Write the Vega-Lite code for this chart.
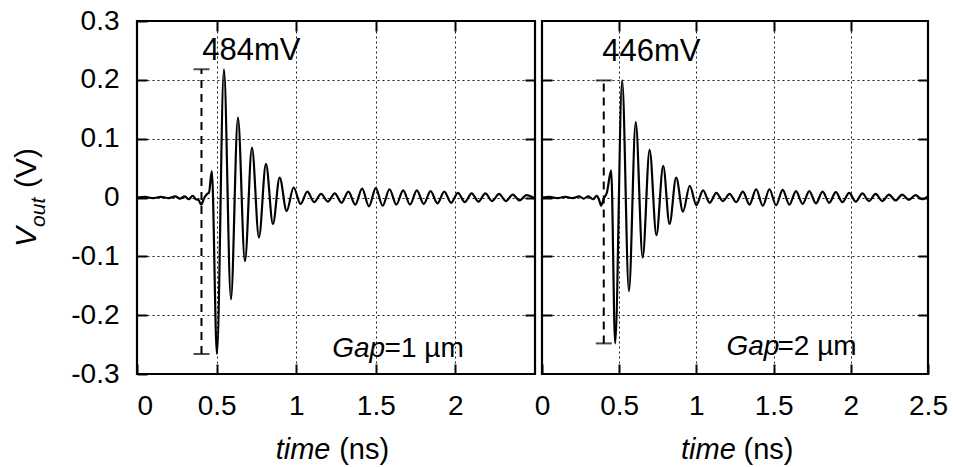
{
  "$schema": "https://vega.github.io/schema/vega-lite/v6.json",
  "background": "white",
  "padding": {"left": 10, "top": 5, "right": 5, "bottom": 5},
  "spacing": -8,
  "config": {
    "font": "Liberation Sans",
    "view": {"stroke": "black", "strokeWidth": 2.2},
    "axis": {"domain": false, "labelFont": "Liberation Sans", "labelFontSize": 28, "labelColor": "black", "tickColor": "black", "tickWidth": 2, "tickSize": -10, "gridColor": "black", "gridDash": [2, 3], "gridWidth": 1, "gridOpacity": 0.9}
  },
  "datasets": {
    "L": [
      {"t": 0, "v": 0}, {"t": 0.05, "v": 0.001}, {"t": 0.1, "v": -0.001}, {"t": 0.15, "v": 0.001}, {"t": 0.2, "v": -0.001},
      {"t": 0.24, "v": 0.002}, {"t": 0.27, "v": -0.002}, {"t": 0.3, "v": 0.002}, {"t": 0.325, "v": -0.003}, {"t": 0.35, "v": 0.003},
      {"t": 0.37, "v": -0.003}, {"t": 0.385, "v": -0.004}, {"t": 0.404, "v": -0.012}, {"t": 0.42, "v": -0.002}, {"t": 0.44, "v": 0.006},
      {"t": 0.452, "v": 0.008}, {"t": 0.47, "v": 0.045}, {"t": 0.502, "v": -0.266}, {"t": 0.546, "v": 0.218}, {"t": 0.59, "v": -0.173},
      {"t": 0.634, "v": 0.136}, {"t": 0.678, "v": -0.108}, {"t": 0.722, "v": 0.085}, {"t": 0.766, "v": -0.068}, {"t": 0.81, "v": 0.057},
      {"t": 0.854, "v": -0.045}, {"t": 0.896, "v": 0.034}, {"t": 0.94, "v": -0.023}, {"t": 0.984, "v": 0.017}, {"t": 1.027, "v": -0.011},
      {"t": 1.07, "v": 0.01}, {"t": 1.113, "v": -0.008}, {"t": 1.156, "v": 0.006}, {"t": 1.199, "v": -0.007}, {"t": 1.242, "v": 0.007},
      {"t": 1.285, "v": -0.009}, {"t": 1.328, "v": 0.01}, {"t": 1.371, "v": -0.012}, {"t": 1.414, "v": 0.015}, {"t": 1.457, "v": -0.015},
      {"t": 1.5, "v": 0.016}, {"t": 1.543, "v": -0.014}, {"t": 1.586, "v": 0.014}, {"t": 1.629, "v": -0.012}, {"t": 1.672, "v": 0.012},
      {"t": 1.715, "v": -0.012}, {"t": 1.758, "v": 0.012}, {"t": 1.801, "v": -0.011}, {"t": 1.844, "v": 0.011}, {"t": 1.887, "v": -0.01},
      {"t": 1.93, "v": 0.01}, {"t": 1.973, "v": -0.009}, {"t": 2.016, "v": 0.008}, {"t": 2.059, "v": -0.008}, {"t": 2.102, "v": 0.007},
      {"t": 2.145, "v": -0.007}, {"t": 2.188, "v": 0.007}, {"t": 2.231, "v": -0.006}, {"t": 2.274, "v": 0.006}, {"t": 2.317, "v": -0.006},
      {"t": 2.36, "v": 0.005}, {"t": 2.403, "v": -0.005}, {"t": 2.446, "v": 0.004}, {"t": 2.5, "v": -0.002}
    ],
    "R": [
      {"t": 0, "v": 0}, {"t": 0.05, "v": 0.001}, {"t": 0.1, "v": -0.001}, {"t": 0.15, "v": 0.001}, {"t": 0.2, "v": -0.001},
      {"t": 0.24, "v": 0.002}, {"t": 0.27, "v": -0.002}, {"t": 0.3, "v": 0.002}, {"t": 0.33, "v": -0.003}, {"t": 0.355, "v": 0.003},
      {"t": 0.37, "v": -0.004}, {"t": 0.383, "v": -0.014}, {"t": 0.4, "v": -0.002}, {"t": 0.42, "v": 0.008}, {"t": 0.448, "v": 0.046},
      {"t": 0.474, "v": -0.248}, {"t": 0.519, "v": 0.199}, {"t": 0.563, "v": -0.159}, {"t": 0.607, "v": 0.128}, {"t": 0.652, "v": -0.102},
      {"t": 0.697, "v": 0.081}, {"t": 0.741, "v": -0.064}, {"t": 0.785, "v": 0.054}, {"t": 0.826, "v": -0.045}, {"t": 0.869, "v": 0.034},
      {"t": 0.913, "v": -0.024}, {"t": 0.957, "v": 0.02}, {"t": 1.0, "v": -0.013}, {"t": 1.043, "v": 0.012}, {"t": 1.086, "v": -0.009},
      {"t": 1.129, "v": 0.008}, {"t": 1.172, "v": -0.006}, {"t": 1.215, "v": 0.006}, {"t": 1.258, "v": -0.008}, {"t": 1.301, "v": 0.01},
      {"t": 1.344, "v": -0.012}, {"t": 1.387, "v": 0.014}, {"t": 1.43, "v": -0.014}, {"t": 1.473, "v": 0.014}, {"t": 1.516, "v": -0.013},
      {"t": 1.559, "v": 0.013}, {"t": 1.602, "v": -0.012}, {"t": 1.645, "v": 0.011}, {"t": 1.688, "v": -0.011}, {"t": 1.731, "v": 0.011},
      {"t": 1.774, "v": -0.01}, {"t": 1.817, "v": 0.01}, {"t": 1.86, "v": -0.009}, {"t": 1.903, "v": 0.009}, {"t": 1.946, "v": -0.008},
      {"t": 1.989, "v": 0.008}, {"t": 2.032, "v": -0.007}, {"t": 2.075, "v": 0.007}, {"t": 2.118, "v": -0.006}, {"t": 2.161, "v": 0.006},
      {"t": 2.204, "v": -0.006}, {"t": 2.247, "v": 0.005}, {"t": 2.29, "v": -0.005}, {"t": 2.333, "v": 0.005}, {"t": 2.376, "v": -0.004},
      {"t": 2.419, "v": 0.004}, {"t": 2.462, "v": -0.003}, {"t": 2.5, "v": 0.002}
    ]
  },
  "hconcat": [
    {
      "width": 398,
      "height": 353,
      "layer": [
        {
          "data": {"name": "L"},
          "mark": {"type": "line", "color": "black", "strokeWidth": 2.2, "interpolate": "monotone"},
          "encoding": {
            "x": {"field": "t", "type": "quantitative", "scale": {"domain": [0, 2.5], "nice": false}, "axis": {"orient": "bottom", "values": [0, 0.5, 1, 1.5, 2], "grid": true, "labelPadding": 28, "labelFlush": true, "title": null, "labelExpr": "format(datum.value, '~g')"}},
            "y": {"field": "v", "type": "quantitative", "scale": {"domain": [-0.3, 0.3], "nice": false, "zero": false}, "axis": {"orient": "left", "values": [-0.3, -0.2, -0.1, 0, 0.1, 0.2, 0.3], "grid": true, "labelPadding": 28, "labelFlush": false, "title": null, "labelExpr": "replace(format(datum.value, '~g'), '\u2212', '-')"}}
          }
        },
        {
          "data": {"values": [{"t": 0.405, "lo": -0.266, "hi": 0.218}]},
          "mark": {"type": "rule", "strokeDash": [8, 6], "strokeWidth": 2, "color": "black"},
          "encoding": {
            "x": {"field": "t", "type": "quantitative", "axis": {"orient": "top", "values": [0.5, 1, 1.5, 2], "labels": false, "grid": false, "title": null}},
            "y": {"field": "lo", "type": "quantitative", "axis": {"orient": "right", "values": [-0.2, -0.1, 0, 0.1, 0.2], "labels": false, "grid": false, "title": null}},
            "y2": {"field": "hi"}
          }
        },
        {
          "data": {"values": [{"t": 0.405, "lo": -0.266, "hi": 0.218}]},
          "mark": {"type": "tick", "orient": "horizontal", "size": 16, "thickness": 2, "color": "black"},
          "encoding": {"x": {"field": "t", "type": "quantitative", "axis": null}, "y": {"field": "hi", "type": "quantitative", "axis": null}}
        },
        {
          "data": {"values": [{"t": 0.405, "lo": -0.266, "hi": 0.218}]},
          "mark": {"type": "tick", "orient": "horizontal", "size": 16, "thickness": 2, "color": "black"},
          "encoding": {"x": {"field": "t", "type": "quantitative", "axis": null}, "y": {"field": "lo", "type": "quantitative", "axis": null}}
        },
        {
          "data": {"values": [{"label": "484mV"}]},
          "mark": {"type": "text", "align": "left", "baseline": "alphabetic", "fontSize": 31, "color": "black"},
          "encoding": {"text": {"field": "label"}, "x": {"datum": 0.41, "type": "quantitative", "axis": null}, "y": {"datum": 0.234, "type": "quantitative", "axis": null}}
        },
        {
          "data": {"values": [{"label": "Gap"}]},
          "mark": {"type": "text", "align": "left", "baseline": "alphabetic", "fontSize": 28, "fontStyle": "italic", "color": "black"},
          "encoding": {"text": {"field": "label"}, "x": {"datum": 1.226, "type": "quantitative", "axis": null}, "y": {"datum": -0.271, "type": "quantitative", "axis": null}}
        },
        {
          "data": {"values": [{"label": "=1 µm"}]},
          "mark": {"type": "text", "align": "left", "baseline": "alphabetic", "fontSize": 28, "color": "black"},
          "encoding": {"text": {"field": "label"}, "x": {"datum": 1.555, "type": "quantitative", "axis": null}, "y": {"datum": -0.271, "type": "quantitative", "axis": null}}
        },
        {
          "data": {"values": [{"label": "time"}]},
          "mark": {"type": "text", "align": "right", "baseline": "middle", "fontSize": 29, "fontStyle": "italic", "color": "black"},
          "encoding": {"text": {"field": "label"}, "x": {"datum": 1.215, "type": "quantitative", "axis": null}, "y": {"datum": -0.43, "type": "quantitative", "axis": null}}
        },
        {
          "data": {"values": [{"label": "(ns)"}]},
          "mark": {"type": "text", "align": "left", "baseline": "middle", "fontSize": 29, "color": "black"},
          "encoding": {"text": {"field": "label"}, "x": {"datum": 1.27, "type": "quantitative", "axis": null}, "y": {"datum": -0.43, "type": "quantitative", "axis": null}}
        },
        {
          "data": {"values": [{"label": "V"}]},
          "mark": {"type": "text", "align": "left", "baseline": "alphabetic", "angle": 270, "fontSize": 30, "fontStyle": "italic", "color": "black"},
          "encoding": {"text": {"field": "label"}, "x": {"datum": -0.635, "type": "quantitative", "axis": null}, "y": {"datum": -0.084, "type": "quantitative", "axis": null}}
        },
        {
          "data": {"values": [{"label": "out"}]},
          "mark": {"type": "text", "align": "left", "baseline": "alphabetic", "angle": 270, "fontSize": 21, "fontStyle": "italic", "color": "black"},
          "encoding": {"text": {"field": "label"}, "x": {"datum": -0.58, "type": "quantitative", "axis": null}, "y": {"datum": -0.05, "type": "quantitative", "axis": null}}
        },
        {
          "data": {"values": [{"label": "(V)"}]},
          "mark": {"type": "text", "align": "left", "baseline": "alphabetic", "angle": 270, "fontSize": 30, "color": "black"},
          "encoding": {"text": {"field": "label"}, "x": {"datum": -0.635, "type": "quantitative", "axis": null}, "y": {"datum": 0.016, "type": "quantitative", "axis": null}}
        }
      ],
      "resolve": {"axis": {"x": "independent", "y": "independent"}}
    },
    {
      "width": 386,
      "height": 353,
      "layer": [
        {
          "data": {"name": "R"},
          "mark": {"type": "line", "color": "black", "strokeWidth": 2.2, "interpolate": "monotone"},
          "encoding": {
            "x": {"field": "t", "type": "quantitative", "scale": {"domain": [0, 2.5], "nice": false}, "axis": {"orient": "bottom", "values": [0, 0.5, 1, 1.5, 2, 2.5], "grid": true, "labelPadding": 28, "labelFlush": false, "title": null, "labelExpr": "format(datum.value, '~g')"}},
            "y": {"field": "v", "type": "quantitative", "scale": {"domain": [-0.3, 0.3], "nice": false, "zero": false}, "axis": {"orient": "left", "values": [-0.2, -0.1, 0, 0.1, 0.2], "grid": true, "labels": false, "title": null}}
          }
        },
        {
          "data": {"values": [{"t": 0.4, "lo": -0.248, "hi": 0.199}]},
          "mark": {"type": "rule", "strokeDash": [8, 6], "strokeWidth": 2, "color": "black"},
          "encoding": {
            "x": {"field": "t", "type": "quantitative", "axis": {"orient": "top", "values": [0.5, 1, 1.5, 2], "labels": false, "grid": false, "title": null}},
            "y": {"field": "lo", "type": "quantitative", "axis": {"orient": "right", "values": [-0.2, -0.1, 0, 0.1, 0.2], "labels": false, "grid": false, "title": null}},
            "y2": {"field": "hi"}
          }
        },
        {
          "data": {"values": [{"t": 0.4, "lo": -0.248, "hi": 0.199}]},
          "mark": {"type": "tick", "orient": "horizontal", "size": 16, "thickness": 2, "color": "black"},
          "encoding": {"x": {"field": "t", "type": "quantitative", "axis": null}, "y": {"field": "hi", "type": "quantitative", "axis": null}}
        },
        {
          "data": {"values": [{"t": 0.4, "lo": -0.248, "hi": 0.199}]},
          "mark": {"type": "tick", "orient": "horizontal", "size": 16, "thickness": 2, "color": "black"},
          "encoding": {"x": {"field": "t", "type": "quantitative", "axis": null}, "y": {"field": "lo", "type": "quantitative", "axis": null}}
        },
        {
          "data": {"values": [{"label": "446mV"}]},
          "mark": {"type": "text", "align": "left", "baseline": "alphabetic", "fontSize": 31, "color": "black"},
          "encoding": {"text": {"field": "label"}, "x": {"datum": 0.39, "type": "quantitative", "axis": null}, "y": {"datum": 0.232, "type": "quantitative", "axis": null}}
        },
        {
          "data": {"values": [{"label": "Gap"}]},
          "mark": {"type": "text", "align": "left", "baseline": "alphabetic", "fontSize": 28, "fontStyle": "italic", "color": "black"},
          "encoding": {"text": {"field": "label"}, "x": {"datum": 1.195, "type": "quantitative", "axis": null}, "y": {"datum": -0.268, "type": "quantitative", "axis": null}}
        },
        {
          "data": {"values": [{"label": "=2 µm"}]},
          "mark": {"type": "text", "align": "left", "baseline": "alphabetic", "fontSize": 28, "color": "black"},
          "encoding": {"text": {"field": "label"}, "x": {"datum": 1.525, "type": "quantitative", "axis": null}, "y": {"datum": -0.268, "type": "quantitative", "axis": null}}
        },
        {
          "data": {"values": [{"label": "time"}]},
          "mark": {"type": "text", "align": "right", "baseline": "middle", "fontSize": 29, "fontStyle": "italic", "color": "black"},
          "encoding": {"text": {"field": "label"}, "x": {"datum": 1.255, "type": "quantitative", "axis": null}, "y": {"datum": -0.43, "type": "quantitative", "axis": null}}
        },
        {
          "data": {"values": [{"label": "(ns)"}]},
          "mark": {"type": "text", "align": "left", "baseline": "middle", "fontSize": 29, "color": "black"},
          "encoding": {"text": {"field": "label"}, "x": {"datum": 1.305, "type": "quantitative", "axis": null}, "y": {"datum": -0.43, "type": "quantitative", "axis": null}}
        }
      ],
      "resolve": {"axis": {"x": "independent", "y": "independent"}}
    }
  ]
}
